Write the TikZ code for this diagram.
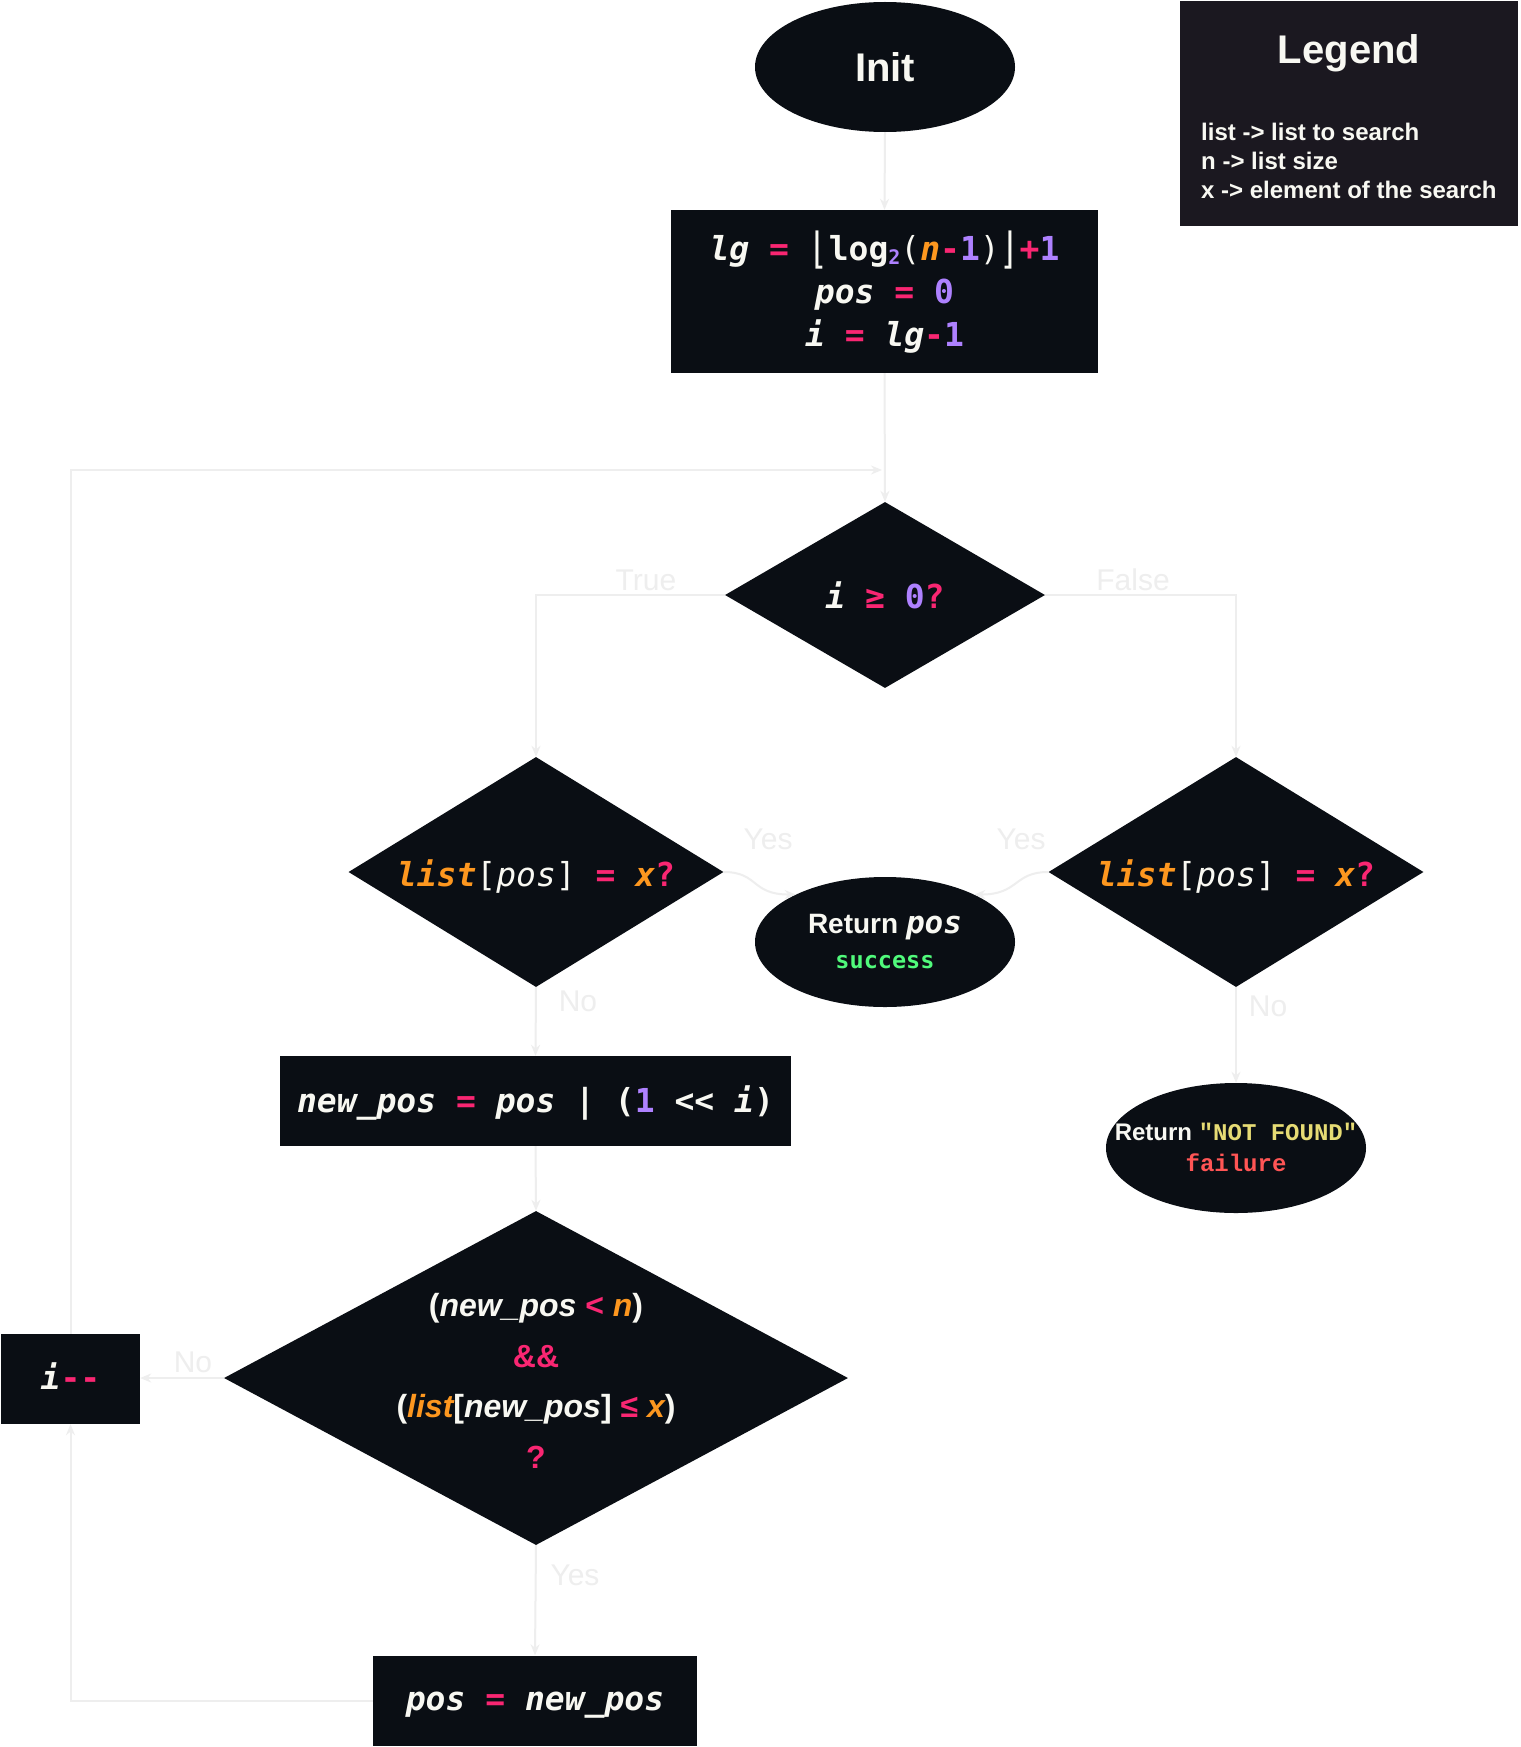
\documentclass[tikz,border=0pt]{standalone}
\usepackage{graphicx}
\usepackage{fontspec}
\setmainfont{Liberation Sans}
\newfontfamily\dmono{DejaVu Sans Mono}[Ligatures=TeXOff, ItalicFont={DejaVu Sans Mono Oblique}, BoldFont={DejaVu Sans Mono Bold}, BoldItalicFont={DejaVu Sans Mono Bold Oblique}]
\newfontfamily\lmono{Liberation Mono}[Ligatures=TeXOff]
\usetikzlibrary{shapes.geometric, arrows.meta}
\definecolor{nodebg}{HTML}{0A0E14}
\definecolor{legbg}{HTML}{1B1820}
\definecolor{linec}{HTML}{EEEEEE}
\definecolor{cpink}{HTML}{F92672}
\definecolor{corange}{HTML}{FD971F}
\definecolor{cpurple}{HTML}{AE81FF}
\definecolor{cgreen}{HTML}{50FA7B}
\definecolor{cyellow}{HTML}{E6DB74}
\definecolor{cred}{HTML}{FF5555}
\definecolor{cwhite}{HTML}{F8F8F2}
\newcommand{\tkV}[1]{{\bfseries\itshape\color{cwhite}#1}}
\newcommand{\tkO}[1]{{\bfseries\itshape\color{corange}#1}}
\newcommand{\tkP}[1]{{\bfseries\color{cpink}#1}}
\newcommand{\tkN}[1]{{\bfseries\color{cpurple}#1}}
\newcommand{\tkW}[1]{{\bfseries\color{cwhite}#1}}
\newcommand{\tkR}[1]{{\color{cwhite}#1}}
\newcommand{\tkFl}[1]{{\color{cwhite}\raisebox{-3pt}{\scalebox{1}[1.3]{#1}}}}
\begin{document}
\begin{tikzpicture}[x=1pt,y=-1pt,
  blk/.style={fill=nodebg, draw=none, inner sep=0pt, text=cwhite},
  rbox/.style={blk, rectangle},
  dia/.style={blk, diamond, aspect=1.7},
  ell/.style={blk, ellipse},
  conn/.style={draw=linec, line width=2pt, -{Stealth[length=11pt,width=9pt]}},
  lbl/.style={text=linec, font=\fontsize{30}{30}\selectfont, inner sep=0pt},
  code/.style={font=\dmono\fontsize{33}{43}\selectfont, align=center, text=cwhite},
]
\useasboundingbox (0,0) rectangle (1520,1747);
\fill[white] (0,0) rectangle (1520,1747);

% legend
\node[rectangle, fill=legbg, minimum width=338, minimum height=225, inner sep=0pt] (legend) at (1349,113.5) {};
\node[text=cwhite, font=\bfseries\fontsize{40}{40}\selectfont] (legT) at (1349,53.5) {Legend};
\node[anchor=west, align=left, text=cwhite, font=\bfseries\fontsize{24}{29}\selectfont, inner sep=0pt] (legI) at (1201,160.5) {list -> list to search\\n -> list size\\x -> element of the search};

% nodes
\node[ell, minimum width=260, minimum height=130, font=\bfseries\fontsize{40}{40}\selectfont] (init) at (885,67) {Init};
\node[rbox, minimum width=427, minimum height=163] (setup) at (884.5,291.5) {};
\node[code, inner sep=0pt] (setupT) at (884.5,292.3) {\tkV{lg} \tkP{=} \tkFl{⌊}\tkW{log}{\color{cpurple}\bfseries\fontsize{20}{43}\selectfont\raisebox{-4pt}{2}}\tkR{(}\tkO{n}\tkP{-}\tkN{1}\tkR{)}\tkFl{⌋}\tkP{+}\tkN{1}\\\tkV{pos} \tkP{=} \tkN{0}\\\tkV{i} \tkP{=} \tkV{lg}\tkP{-}\tkN{1}};
\node[dia, minimum width=320, minimum height=186, code] (cond) at (885,595) {\tkV{i} \tkP{≥} \tkN{0}\tkP{?}};
\node[dia, minimum width=375, minimum height=230, code, text height=32, text depth=4] (ld) at (536,872) {\tkO{list}\tkR{[}{\itshape\color{cwhite}pos}\tkR{]} \tkP{=} \tkO{x}\tkP{?}};
\node[dia, minimum width=375, minimum height=230, code, text height=32, text depth=4] (rd) at (1236,872) {\tkO{list}\tkR{[}{\itshape\color{cwhite}pos}\tkR{]} \tkP{=} \tkO{x}\tkP{?}};
\node[ell, minimum width=260, minimum height=130] (ret) at (885,942) {};
\node[align=center, text=cwhite, font=\fontsize{28}{35}\selectfont, inner sep=0pt] (retT) at (885,942) {{\bfseries Return} {\dmono\bfseries\itshape\fontsize{31}{35}\selectfont pos}\\{\dmono\bfseries\fontsize{23.5}{35}\selectfont\color{cgreen}success}};
\node[rbox, minimum width=511, minimum height=90, code, text height=30, text depth=8] (np) at (535.5,1101) {\tkV{new\_pos} \tkP{=} \tkV{pos} \tkW{|} \tkW{(}\tkN{1} \tkW{<<} \tkV{i}\tkW{)}};
\node[ell, minimum width=260, minimum height=130] (nf) at (1236,1148) {};
\node[align=center, text=cwhite, font=\fontsize{24}{31}\selectfont, inner sep=0pt] (nfT) at (1236,1147) {{\bfseries Return} {\lmono\bfseries\color{cyellow}"NOT FOUND"}\\{\lmono\bfseries\color{cred}failure}};
\node[dia, minimum width=624, minimum height=334] (big) at (536,1378) {};
\node[align=center, text=cwhite, font=\fontsize{32}{50.7}\selectfont, inner sep=0pt] (bigT) at (536,1381) {\tkW{(}\tkV{new\_pos} \tkP{<} \tkO{n}\tkW{)}\\\tkP{\&\&}\\\tkW{(}\tkO{list}\tkW{[}\tkV{new\_pos}\tkW{]} \tkP{≤} \tkO{x}\tkW{)}\\\tkP{?}};
\node[rbox, minimum width=139, minimum height=90, code, text height=25, text depth=4] (dec) at (70.5,1379) {\tkV{i}\tkP{-\kern0pt-}};
\node[rbox, minimum width=324, minimum height=90, code, text height=27, text depth=8] (pn) at (535,1700.5) {\tkV{pos} \tkP{=} \tkV{new\_pos}};

% connectors
\coordinate (join) at (882,470);
\draw[conn] (init.south) -- (setup.north);
\draw[conn] (setup.south) -- (cond.north);
\draw[conn] (cond.west) -| (ld.north);
\draw[conn] (cond.east) -| (rd.north);
\draw[conn] (ld.east) .. controls +(35,0) and +(-45,0) .. (ret.152);
\draw[conn] (rd.west) .. controls +(-35,0) and +(45,0) .. (ret.28);
\draw[conn] (ld.south) -- (np.north);
\draw[conn] (rd.south) -- (nf.north);
\draw[conn] (np.south) -- (big.north);
\draw[conn] (big.west) -- (big.west -| dec.east);
\draw[conn] (big.south) -- (pn.north);
\draw[conn] (pn.west) -| (dec.south);
\draw[conn] (dec.north) |- (join);

% labels
\node[lbl] (lTrue) at (646,580) {True};
\node[lbl] (lFalse) at (1133,580) {False};
\node[lbl] (lYes1) at (768,839) {Yes};
\node[lbl] (lYes2) at (1021,839) {Yes};
\node[lbl] (lNo1) at (578,1001) {No};
\node[lbl] (lNo2) at (1268,1006) {No};
\node[lbl] (lNo3) at (193,1362) {No};
\node[lbl] (lYes3) at (575,1575) {Yes};
\end{tikzpicture}
\end{document}
